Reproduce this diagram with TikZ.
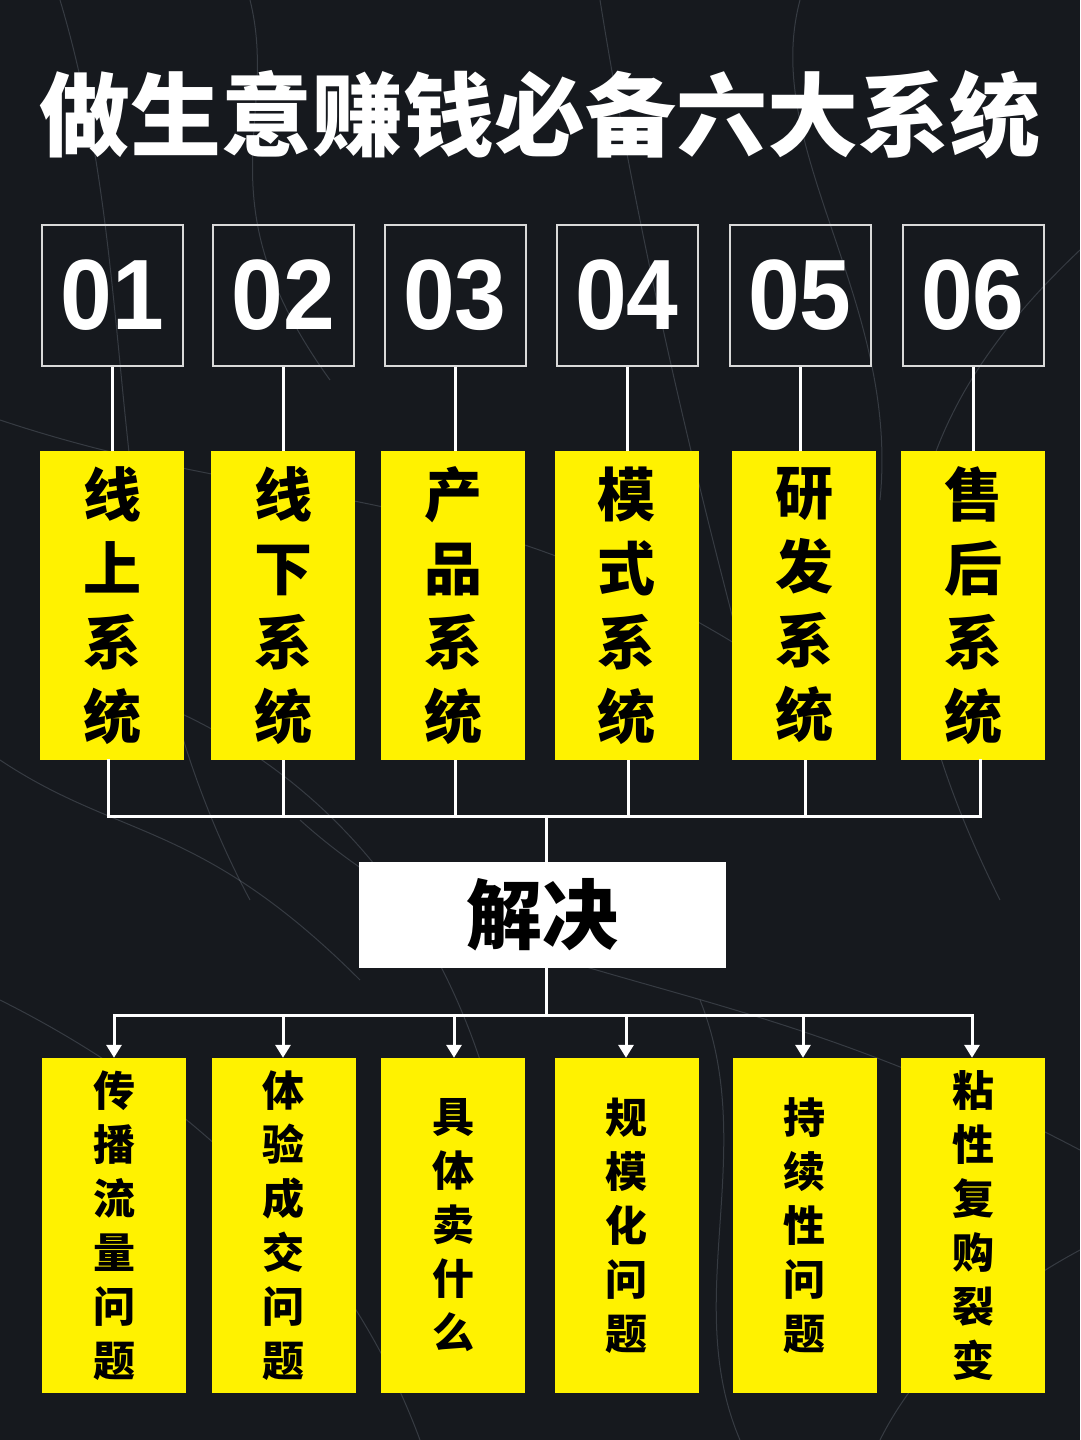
\documentclass[tikz,border=0pt]{standalone}
\usepackage{fontspec}
\usepackage{graphicx}
\newfontfamily\cjk{Noto Sans CJK SC}
\newfontfamily\numf{Liberation Sans}
\usetikzlibrary{arrows.meta}
\definecolor{bg}{RGB}{22,25,30}
\definecolor{yel}{RGB}{255,242,0}
\definecolor{crack}{RGB}{170,180,195}
\begin{document}
\begin{tikzpicture}[x=1pt,y=-1pt,
  numbox/.style={draw=white!85!black, line width=2pt, minimum width=141pt, minimum height=141pt, inner sep=0pt, text=white, font=\numf\bfseries\fontsize{100}{100}\selectfont},
  sysbox/.style={fill=yel, minimum width=144pt, minimum height=309pt, inner sep=0pt, align=center, font=\cjk\bfseries\fontsize{58}{74}\selectfont},
  probox/.style={fill=yel, minimum width=144pt, minimum height=335pt, inner sep=0pt, align=center, font=\cjk\bfseries\fontsize{42}{54}\selectfont},
  wire/.style={white, line width=3pt, line cap=rect},
  arr/.style={white, line width=3pt, -{Triangle[width=15pt,length=13pt]}},
  crk/.style={crack, opacity=0.22, line width=1pt}
]
\fill[bg] (0,0) rectangle (1080,1440);
\useasboundingbox (0,0) rectangle (1080,1440);
% faint marble cracks
\draw[crk] (60,0) .. controls (150,300) and (90,600) .. (250,900);
\draw[crk] (600,0) .. controls (640,250) and (700,500) .. (760,720);
\draw[crk] (0,420) .. controls (300,520) and (500,470) .. (820,700);
\draw[crk] (1080,250) .. controls (900,420) and (850,600) .. (1000,900);
\draw[crk] (300,820) .. controls (500,1000) and (700,950) .. (1080,1150);
\draw[crk] (0,1000) .. controls (200,1100) and (350,1250) .. (420,1440);
\draw[crk] (800,0) .. controls (760,150) and (900,300) .. (880,500);
\draw[crk] (150,700) .. controls (300,760) and (420,880) .. (480,1060);
\draw[crk] (1080,1250) .. controls (950,1320) and (900,1400) .. (880,1440);
\draw[crk] (700,1000) .. controls (760,1150) and (680,1300) .. (740,1440);
\draw[crk] (250,0) .. controls (280,120) and (200,200) .. (330,380);
\draw[crk] (0,760) .. controls (120,840) and (200,820) .. (360,980);
% title
\node[text=white, font=\cjk\bfseries\fontsize{91}{91}\selectfont] (title) at (540,115) {做生意赚钱必备六大系统};
% number boxes
\node[numbox] (n1) at (112.5,295.5) {\scalebox{0.93}[1]{01}};
\node[numbox] (n2) at (283.5,295.5) {\scalebox{0.93}[1]{02}};
\node[numbox] (n3) at (455,295.5) {\scalebox{0.93}[1]{03}};
\node[numbox] (n4) at (627,295.5) {\scalebox{0.93}[1]{04}};
\node[numbox] (n5) at (800,295.5) {\scalebox{0.93}[1]{05}};
\node[numbox] (n6) at (973,295.5) {\scalebox{0.93}[1]{06}};
% system boxes
\node[sysbox] (s1) at (112,605.5) {线\\上\\系\\统};
\node[sysbox] (s2) at (283,605.5) {线\\下\\系\\统};
\node[sysbox] (s3) at (453,605.5) {产\\品\\系\\统};
\node[sysbox] (s4) at (626.5,605.5) {模\\式\\系\\统};
\node[sysbox] (s5) at (804,605.5) {研\\发\\系\\统};
\node[sysbox] (s6) at (973,605.5) {售\\后\\系\\统};
% solve box
\node[fill=white, minimum width=367pt, minimum height=106pt, inner sep=0pt, font=\cjk\bfseries\fontsize{76}{76}\selectfont] (solve) at (542.5,915) {解决};
% problem boxes
\node[probox] (p1) at (114,1225.5) {传\\播\\流\\量\\问\\题};
\node[probox] (p2) at (283.5,1225.5) {体\\验\\成\\交\\问\\题};
\node[probox] (p3) at (453,1225.5) {具\\体\\卖\\什\\么};
\node[probox] (p4) at (626.5,1225.5) {规\\模\\化\\问\\题};
\node[probox] (p5) at (804.5,1225.5) {持\\续\\性\\问\\题};
\node[probox] (p6) at (973,1225.5) {粘\\性\\复\\购\\裂\\变};
% connectors number -> system
\foreach \i in {1,...,6}{
  \draw[white, line width=3pt] (n\i.south) -- (n\i.south |- s\i.north);
}
% upper bus
\coordinate (b1) at (108,816);
\coordinate (b2) at (283,816);
\coordinate (b3) at (455,816);
\coordinate (b4) at (628,816);
\coordinate (b5) at (805,816);
\coordinate (b6) at (980,816);
\coordinate (bc) at (546,816);
\draw[wire] (s1.south -| b1) -- (b1) -- (b6) -- (s6.south -| b6);
\foreach \i in {2,...,5}{
  \draw[white, line width=3pt] (s\i.south -| b\i) -- (b\i);
}
\draw[white, line width=3pt] (bc) -- (bc |- solve.north);
% lower bus
\coordinate (lc) at (546,1015);
\coordinate (l1) at (114,1015);
\coordinate (l2) at (283,1015);
\coordinate (l3) at (454,1015);
\coordinate (l4) at (626,1015);
\coordinate (l5) at (803,1015);
\coordinate (l6) at (972,1015);
\draw[white, line width=3pt] (solve.south -| lc) -- (lc);
\draw[wire] (l1) -- (l6);
\foreach \i in {1,...,6}{
  \draw[arr] (l\i) -- (p\i.north -| l\i);
}
\end{tikzpicture}
\end{document}
